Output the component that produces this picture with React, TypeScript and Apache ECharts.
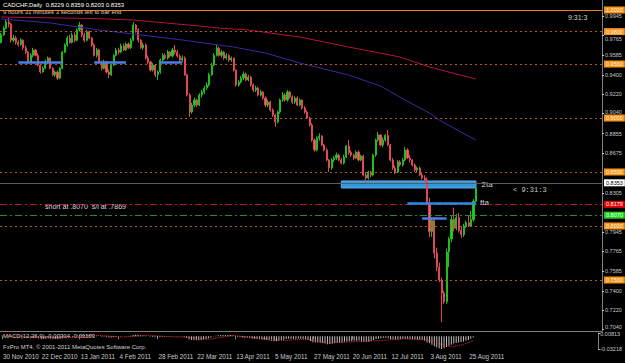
import React, { useEffect, useRef } from "react";
import * as echarts from "echarts";

// ---------- data ----------
const TITLE = "CADCHF,Daily  0.8229 0.8359 0.8203 0.8353";
const SUBTITLE = "9 hours 31 minutes 3 seconds left to bar end";
const MACD_TITLE = "MACD(12,26,9) -0.00304 -0.01103";
const COPYRIGHT = "FxPro MT4, \u00a9 2001-2011 MetaQuotes Software Corp.";
const TIMER = "9:31:3";
const NOTE = "short at .8070  s/l at .7869";

const TOTAL_SLOTS = 246;
const LAST_LABEL_BAR = 192;
const LABEL_STEP = 16;
const PRICE_MIN = 0.70278;
const PRICE_MAX = 1.00926;
const MACD_MIN = -0.03218;
const MACD_MAX = 0.00813;

// daily candles in pips: [open, close, low, high]
const candlesPips: number[][] = [
  [9700, 9770, 9690, 9790], [9770, 9830, 9760, 9850], [9830, 9890, 9820, 9910], [9890, 9870, 9840, 9926], [9870, 9720, 9700, 9880],
  [9720, 9740, 9700, 9770], [9740, 9700, 9680, 9760], [9700, 9680, 9660, 9720], [9680, 9720, 9670, 9740], [9720, 9650, 9630, 9730],
  [9650, 9610, 9590, 9670], [9610, 9520, 9500, 9620], [9520, 9580, 9510, 9600], [9580, 9630, 9560, 9650], [9630, 9580, 9570, 9640],
  [9580, 9490, 9480, 9600], [9490, 9426, 9410, 9500], [9426, 9460, 9420, 9480], [9460, 9520, 9450, 9540], [9520, 9555, 9500, 9570],
  [9555, 9460, 9450, 9560], [9460, 9400, 9390, 9470], [9400, 9426, 9380, 9440], [9426, 9370, 9352, 9440], [9370, 9460, 9360, 9470],
  [9460, 9610, 9450, 9620], [9610, 9676, 9600, 9690], [9676, 9740, 9660, 9760], [9740, 9700, 9690, 9770], [9700, 9769, 9690, 9790],
  [9769, 9720, 9700, 9790], [9720, 9815, 9710, 9830], [9815, 9860, 9800, 9889], [9860, 9769, 9750, 9870], [9769, 9720, 9700, 9790],
  [9720, 9800, 9710, 9815], [9800, 9740, 9730, 9810], [9740, 9676, 9660, 9750], [9676, 9580, 9570, 9690], [9580, 9630, 9560, 9650],
  [9630, 9520, 9510, 9640], [9520, 9460, 9440, 9530], [9460, 9520, 9450, 9540], [9520, 9426, 9410, 9530], [9426, 9400, 9370, 9450],
  [9400, 9490, 9390, 9500], [9490, 9580, 9480, 9590], [9580, 9630, 9570, 9650], [9630, 9610, 9590, 9650], [9610, 9667, 9600, 9690],
  [9667, 9630, 9620, 9690], [9630, 9685, 9620, 9700], [9685, 9650, 9640, 9700], [9650, 9720, 9640, 9740], [9720, 9860, 9710, 9889],
  [9860, 9815, 9790, 9870], [9815, 9720, 9700, 9830], [9720, 9650, 9640, 9730], [9650, 9676, 9630, 9700], [9676, 9555, 9540, 9690],
  [9555, 9520, 9500, 9580], [9520, 9444, 9430, 9530], [9444, 9490, 9430, 9510], [9490, 9400, 9380, 9500], [9400, 9426, 9352, 9440],
  [9426, 9537, 9410, 9550], [9537, 9580, 9520, 9600], [9580, 9555, 9540, 9600], [9555, 9610, 9540, 9630], [9610, 9574, 9560, 9620],
  [9574, 9630, 9560, 9650], [9630, 9610, 9590, 9676], [9610, 9574, 9560, 9630], [9574, 9537, 9520, 9590], [9537, 9555, 9520, 9580],
  [9555, 9400, 9390, 9570], [9400, 9213, 9200, 9410], [9213, 9056, 9010, 9230], [9056, 9120, 9040, 9140], [9120, 9167, 9100, 9190],
  [9167, 9120, 9100, 9180], [9120, 9213, 9110, 9230], [9213, 9240, 9190, 9260], [9240, 9278, 9220, 9300], [9278, 9306, 9260, 9330],
  [9306, 9400, 9290, 9420], [9400, 9490, 9390, 9510], [9490, 9580, 9480, 9600], [9580, 9648, 9570, 9676], [9648, 9580, 9570, 9660],
  [9580, 9610, 9560, 9630], [9610, 9555, 9540, 9620], [9555, 9580, 9540, 9600], [9580, 9537, 9520, 9590], [9537, 9555, 9520, 9570],
  [9555, 9444, 9430, 9560], [9444, 9306, 9290, 9450], [9306, 9333, 9290, 9350], [9333, 9370, 9320, 9390], [9370, 9407, 9350, 9430],
  [9407, 9352, 9340, 9420], [9352, 9380, 9340, 9400], [9380, 9306, 9290, 9390], [9306, 9259, 9240, 9320], [9259, 9278, 9240, 9300],
  [9278, 9213, 9200, 9290], [9213, 9240, 9200, 9260], [9240, 9185, 9170, 9250], [9185, 9120, 9100, 9200], [9120, 9148, 9100, 9170],
  [9148, 9074, 9060, 9160], [9074, 9028, 9010, 9090], [9028, 8963, 8917, 9040], [8963, 9056, 8950, 9070], [9056, 9167, 9040, 9180],
  [9167, 9213, 9150, 9240], [9213, 9167, 9150, 9230], [9167, 9240, 9150, 9260], [9240, 9194, 9180, 9250], [9194, 9148, 9130, 9210],
  [9148, 9185, 9130, 9200], [9185, 9120, 9110, 9200], [9120, 9167, 9110, 9180], [9167, 9093, 9080, 9170], [9093, 9056, 9040, 9110],
  [9056, 9000, 8990, 9070], [9000, 8935, 8920, 9010], [8935, 8796, 8780, 8950], [8796, 8704, 8690, 8810], [8704, 8815, 8690, 8830],
  [8815, 8833, 8790, 8860], [8833, 8750, 8740, 8840], [8750, 8704, 8690, 8760], [8704, 8611, 8600, 8720], [8611, 8537, 8500, 8620],
  [8537, 8611, 8520, 8630], [8611, 8630, 8590, 8650], [8630, 8657, 8610, 8680], [8657, 8611, 8600, 8670], [8611, 8583, 8570, 8630],
  [8583, 8639, 8570, 8660], [8639, 8740, 8630, 8750], [8740, 8680, 8660, 8796], [8680, 8657, 8640, 8700], [8657, 8630, 8610, 8670],
  [8630, 8685, 8620, 8700], [8685, 8611, 8600, 8700], [8611, 8648, 8600, 8660], [8648, 8472, 8460, 8660], [8472, 8444, 8407, 8490],
  [8444, 8500, 8430, 8510], [8500, 8472, 8450, 8510], [8472, 8657, 8460, 8670], [8657, 8796, 8640, 8810], [8796, 8843, 8780, 8870],
  [8843, 8750, 8740, 8850], [8750, 8796, 8730, 8820], [8796, 8840, 8780, 8850], [8840, 8750, 8740, 8889], [8750, 8611, 8600, 8760],
  [8611, 8537, 8520, 8630], [8537, 8500, 8480, 8560], [8500, 8593, 8490, 8610], [8593, 8565, 8550, 8610], [8565, 8611, 8550, 8630],
  [8611, 8704, 8600, 8731], [8704, 8630, 8620, 8720], [8630, 8611, 8590, 8660], [8611, 8565, 8550, 8620], [8565, 8519, 8500, 8580],
  [8519, 8537, 8500, 8550], [8537, 8472, 8460, 8550], [8472, 8444, 8430, 8490], [8444, 8426, 8410, 8470], [8426, 8210, 8190, 8450],
  [8210, 7950, 7900, 8260], [7950, 8050, 7900, 8080], [8050, 7750, 7700, 8080], [7750, 7620, 7580, 7800], [7620, 7500, 7480, 7660],
  [7500, 7380, 7111, 7520], [7380, 7300, 7280, 7400], [7300, 7760, 7280, 7790], [7760, 7880, 7620, 7900], [7880, 8060, 7850, 8100],
  [8060, 7980, 7950, 8170], [7980, 8080, 7960, 8110], [8080, 7960, 7940, 8120], [7960, 7920, 7890, 8000], [7920, 8000, 7900, 8020],
  [8000, 8030, 7980, 8050], [8030, 8000, 7990, 8100], [8000, 8060, 7990, 8140], [8060, 8229, 8040, 8250], [8229, 8353, 8203, 8359],
];

// moving averages, read at a few bars: [barIndex, pips]
const redMaPips: number[][] = [[0, 9935], [38, 9921], [54, 9907], [81, 9852], [89, 9833], [101, 9815], [122, 9750], [142, 9657], [163, 9565], [175, 9472], [194, 9361]];
const blueMaPips: number[][] = [[0, 9917], [20, 9880], [40, 9815], [57, 9769], [74, 9722], [95, 9657], [108, 9602], [122, 9509], [142, 9398], [155, 9296], [165, 9167], [175, 9046], [179, 8981], [187, 8880], [194, 8796]];

// MACD main (histogram) in 1e-4 units, one per bar
const macdMain: number[] = [
  10, 12, 18, 20, 14, 8, 2, -4, -6, -12,
  -18, -28, -32, -32, -36, -44, -54, -58, -56, -52,
  -56, -62, -64, -68, -62, -48, -32, -16, -8, 4,
  8, 20, 32, 34, 32, 36, 34, 28, 16, 10,
  0, -12, -16, -26, -34, -34, -28, -18, -12, -4,
  0, 6, 8, 14, 30, 38, 36, 28, 24, 12,
  0, -14, -18, -28, -34, -28, -20, -16, -10, -8,
  -4, -2, -4, -6, -6, -18, -44, -76, -92, -98,
  -104, -100, -92, -82, -70, -52, -30, -8, 14, 22,
  28, 28, 30, 28, 28, 18, -4, -20, -28, -30,
  -36, -38, -46, -56, -62, -70, -74, -80, -90, -94,
  -104, -114, -126, -124, -110, -94, -86, -72, -66, -66,
  -62, -64, -60, -66, -72, -82, -96, -122, -150, -156,
  -156, -164, -172, -186, -200, -196, -186, -172, -166, -164,
  -154, -138, -130, -126, -124, -116, -116, -110, -126, -136,
  -136, -136, -120, -96, -72, -64, -52, -40, -40, -50,
  -64, -76, -76, -78, -76, -66, -66, -66, -70, -74,
  -74, -80, -84, -88, -116, -158, -176, -214, -250, -280,
  -306, -322, -300, -274, -240, -216, -186, -170, -158, -146,
  -130, -116, -98, -64, -30,
];
// MACD signal, read at a few bars: [barIndex, 1e-4 units]
const macdSignal: number[][] = [[0, 10], [10, 0], [20, -45], [30, -30], [40, 20], [50, -20], [60, 25], [70, -15], [78, -30], [85, -80], [95, 20], [105, -40], [115, -110], [125, -70], [135, -170], [145, -140], [155, -110], [165, -70], [175, -90], [180, -190], [185, -270], [190, -210], [194, -110]];

const priceTicks = [0.704, 0.722, 0.74, 0.7585, 0.7765, 0.7945, 0.8305, 0.8675, 0.8855, 0.904, 0.922, 0.94, 0.9585, 0.9765, 0.9945];
const macdTicks = [0.00813, -0.03218];

const roundLevels = [1.0, 0.98, 0.95, 0.9, 0.85, 0.8, 0.75];
const currentPrice = 0.8353;
const stopLevel = 0.8179;
const entryLevel = 0.807;

// [fromBar, toBar, price]
const blueSegments: number[][] = [[7, 25, 0.9519], [38, 51, 0.9519], [65, 74, 0.9519], [172, 182, 0.807]];
const ftaLine = [166, 194, 0.8213];
const zone2ta = [139, 194, 0.8352, 0.8417]; // fromBar, toBar, low, high

// ---------- helpers ----------
const MONTHS = ["Jan", "Feb", "Mar", "Apr", "May", "Jun", "Jul", "Aug", "Sep", "Oct", "Nov", "Dec"];
function buildDates(n: number): string[] {
  const out: string[] = [];
  const d = new Date(Date.UTC(2010, 10, 30));
  while (out.length < n) {
    const wd = d.getUTCDay();
    if (wd !== 0 && wd !== 6) out.push(`${d.getUTCDate()} ${MONTHS[d.getUTCMonth()]} ${d.getUTCFullYear()}`);
    d.setUTCDate(d.getUTCDate() + 1);
  }
  return out;
}
function sparse(points: number[][], scale: number, n: number): (number | null)[] {
  const arr: (number | null)[] = new Array(n).fill(null);
  points.forEach(([i, v]) => { arr[i] = v * scale; });
  return arr;
}

const FONT = "Liberation Sans";
const LBL = "#C8C8C8";

export default function App() {
  const ref = useRef<HTMLDivElement>(null);
  useEffect(() => {
    if (!ref.current) return;
    const chart = echarts.init(ref.current, undefined, { renderer: "svg" });
    const dates = buildDates(TOTAL_SLOTS);
    const candles = candlesPips.map((c) => c.map((v) => v / 10000));
    const macd = macdMain.map((v) => v / 10000);
    const gray = "#808080";
    const showDate = (i: number) => i % LABEL_STEP === 0 && i <= LAST_LABEL_BAR;
    const near = (a: number, b: number) => Math.abs(a - b) < 1e-6;

    const boxLabel = (text: string, bg: string, fg: string) => ({
      show: true, position: "end", distance: 2, formatter: text, backgroundColor: bg, color: fg,
      fontSize: 5.5, fontFamily: FONT, padding: [0, 2, 0, 2], lineHeight: 7,
    });
    const levelLine = (v: number, solid: boolean) => ({
      yAxis: v,
      lineStyle: { color: solid ? "#E8801E" : "#B4581E", type: solid ? "solid" : [2, 3], width: 1 },
      label: boxLabel(v.toFixed(4), "#F7941D", "#FFF3DC"),
    });
    const richBase = { fontSize: 5.5, color: LBL, fontFamily: FONT };

    const option: any = {
      animation: false,
      backgroundColor: "#000000",
      grid: [
        { left: 0, right: 23, top: 0, height: 331 },
        { left: 0, right: 23, top: 333, height: 16 },
      ],
      xAxis: [
        { type: "category", gridIndex: 0, data: dates, boundaryGap: true, axisLine: { show: true, lineStyle: { color: gray } }, axisTick: { show: false }, axisLabel: { show: false }, splitLine: { show: false } },
        {
          type: "category", gridIndex: 1, data: dates, boundaryGap: true,
          axisLine: { show: false },
          axisTick: { show: true, interval: (i: number) => showDate(i), alignWithLabel: true, length: 3, lineStyle: { color: gray } },
          axisLabel: { show: true, interval: (i: number) => showDate(i), color: LBL, fontSize: 6.3, fontFamily: FONT, align: "left", margin: 4, padding: [0, 0, 0, 1] },
          splitLine: { show: false },
        },
      ],
      yAxis: [
        {
          type: "value", gridIndex: 0, position: "right", min: PRICE_MIN, max: PRICE_MAX,
          axisLine: { show: true, lineStyle: { color: gray } },
          axisTick: { show: true, length: 2, customValues: priceTicks, lineStyle: { color: LBL } },
          axisLabel: {
            show: true, customValues: priceTicks,
            formatter: (v: number) => {
              const s = v.toFixed(4);
              if (near(v, 0.704)) return `{up5|${s}}`;
              if (near(v, 0.904)) return `{up4|${s}}`;
              if (near(v, 0.9765)) return `{dn8|${s}}`;
              return s;
            },
            rich: {
              up5: { ...richBase, padding: [0, 0, 5, 0] },
              up4: { ...richBase, padding: [0, 0, 4, 0] },
              dn8: { ...richBase, padding: [8, 0, 0, 0] },
            },
            color: LBL, fontSize: 5.5, fontFamily: FONT, margin: 3,
          },
          splitLine: { show: false },
        },
        {
          type: "value", gridIndex: 1, position: "right", min: MACD_MIN, max: MACD_MAX,
          axisLine: { show: true, lineStyle: { color: gray } },
          axisTick: { show: true, length: 2, customValues: macdTicks, lineStyle: { color: LBL } },
          axisLabel: {
            show: true, customValues: macdTicks,
            formatter: (v: number) => (v > 0 ? `{hi|${v.toFixed(5)}}` : v.toFixed(5)),
            rich: { hi: { ...richBase, padding: [2, 0, 0, 0] } },
            color: LBL, fontSize: 5.5, fontFamily: FONT, margin: 2,
          },
          splitLine: { show: false },
        },
      ],
      series: [
        {
          type: "line", xAxisIndex: 0, yAxisIndex: 0, data: new Array(TOTAL_SLOTS).fill(null), symbol: "none", silent: true,
          markLine: {
            silent: true, symbol: ["none", "none"],
            data: [
              ...roundLevels.map((v, i) => levelLine(v, i === 0)),
              { yAxis: currentPrice, lineStyle: { color: "#5A5A5A", type: "solid", width: 1 }, label: boxLabel(currentPrice.toFixed(4), "#FFFFFF", "#000000") },
              { yAxis: stopLevel, lineStyle: { color: "#B4143C", type: [7, 3, 2, 3], width: 1 }, label: boxLabel(stopLevel.toFixed(4), "#E00000", "#FFFFFF") },
              { yAxis: entryLevel, lineStyle: { color: "#1E8C32", type: [7, 3, 2, 3], width: 1 }, label: boxLabel(entryLevel.toFixed(4), "#1ED21E", "#FFFFFF") },
              ...blueSegments.map(([a, b, p]) => [
                { coord: [a, p], lineStyle: { color: "#4A7FE6", type: "solid", width: 2.5 }, label: { show: false } },
                { coord: [b, p] },
              ]),
              [
                { coord: [ftaLine[0], ftaLine[2]], lineStyle: { color: "#2E8AE6", type: "solid", width: 2.5 }, label: { show: true, position: "end", distance: 4, formatter: "fta", color: "#D0D0D0", fontSize: 8, fontFamily: FONT } },
                { coord: [ftaLine[1], ftaLine[2]] },
              ],
            ],
          },
          markArea: {
            silent: true,
            data: [[
              { coord: [zone2ta[0], zone2ta[3]], itemStyle: { color: "#3399DD", borderColor: "#5AB0F0", borderWidth: 1 }, label: { show: true, position: "right", distance: 5, formatter: "2ta", color: "#D0D0D0", fontSize: 8, fontFamily: FONT } },
              { coord: [zone2ta[1], zone2ta[2]] },
            ]],
          },
        },
        {
          type: "candlestick", xAxisIndex: 0, yAxisIndex: 0, data: candles, barWidth: 1.6,
          itemStyle: { color: "#1ED21E", color0: "#F26060", borderColor: "#1EBE1E", borderColor0: "#E04858", borderWidth: 1 },
        },
        { type: "line", xAxisIndex: 0, yAxisIndex: 0, data: sparse(redMaPips, 1 / 10000, TOTAL_SLOTS), connectNulls: true, symbol: "none", lineStyle: { color: "#B4143C", width: 1 } },
        { type: "line", xAxisIndex: 0, yAxisIndex: 0, data: sparse(blueMaPips, 1 / 10000, TOTAL_SLOTS), connectNulls: true, symbol: "none", lineStyle: { color: "#3C28A0", width: 1 } },
        { type: "bar", xAxisIndex: 1, yAxisIndex: 1, data: macd, barWidth: 1, itemStyle: { color: "#C0C0C0" } },
        { type: "line", xAxisIndex: 1, yAxisIndex: 1, data: sparse(macdSignal, 1 / 10000, TOTAL_SLOTS), connectNulls: true, symbol: "none", lineStyle: { color: "#E03030", width: 1, type: "dotted" } },
      ],
      graphic: [
        { type: "text", left: 3, top: 2, style: { text: TITLE, fill: "#FFFFFF", fontSize: 6, fontFamily: FONT } },
        { type: "text", left: 3, top: 9, style: { text: SUBTITLE, fill: "#D0D0D0", fontSize: 6, fontFamily: FONT } },
        { type: "text", left: 568, top: 14, style: { text: TIMER, fill: "#D0D0D0", fontSize: 7, fontFamily: FONT } },
        { type: "text", left: 513, top: 186, style: { text: "< " + TIMER, fill: LBL, fontSize: 7, fontFamily: "Liberation Mono" } },
        { type: "text", left: 45, top: 203, style: { text: NOTE, fill: "#D8D8D8", fontSize: 7, fontFamily: FONT, backgroundColor: "#000000" } },
        { type: "text", left: 3, top: 333, style: { text: MACD_TITLE, fill: "#D0D0D0", fontSize: 6, fontFamily: FONT } },
        { type: "text", left: 3, top: 344, style: { text: COPYRIGHT, fill: "#D0D0D0", fontSize: 6, fontFamily: FONT } },
      ],
    };
    chart.setOption(option);
    return () => chart.dispose();
  }, []);
  return <div ref={ref} style={{ position: "fixed", left: 0, top: 0, width: 625, height: 363 }} />;
}
